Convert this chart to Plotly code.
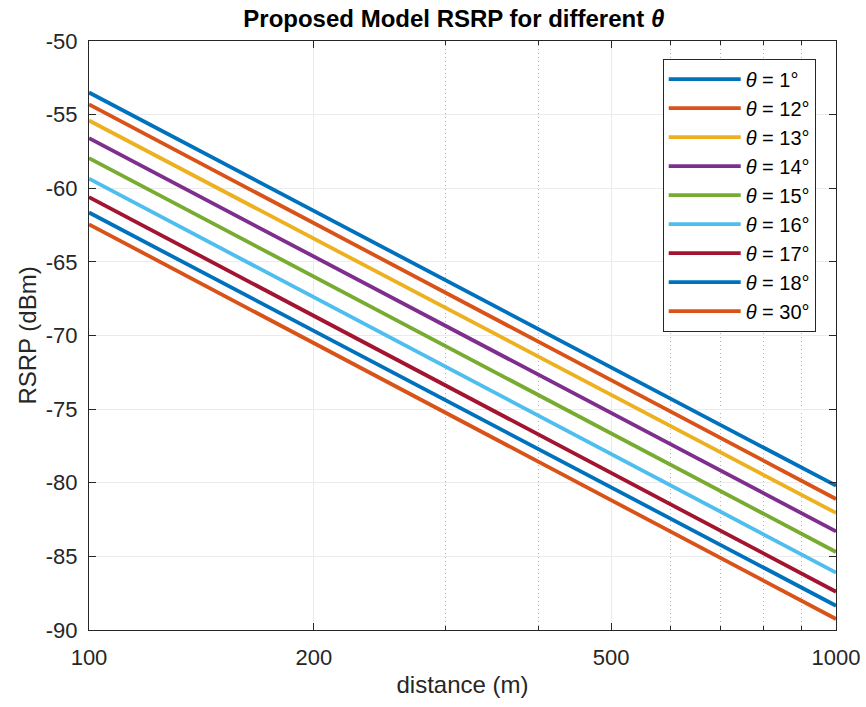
import plotly.graph_objects as go

distance = [100, 1000]
theta_labels = ["1°", "12°", "13°", "14°", "15°", "16°", "17°", "18°", "30°"]
rsrp_at_100 = [-53.5, -54.3, -55.4, -56.6, -57.95, -59.35, -60.6, -61.65, -62.45]
rsrp_at_1000 = [-80.2, -81.1, -82.05, -83.3, -84.7, -86.1, -87.4, -88.35, -89.25]
colors = ["#0072BD", "#D95319", "#EDB120", "#7E2F8E", "#77AC30",
          "#4DBEEE", "#A2142F", "#0072BD", "#D95319"]

y_ticks = [-50, -55, -60, -65, -70, -75, -80, -85, -90]
x_ticks = [100, 200, 500, 1000]
x_minor = [300, 400, 600, 700, 800, 900]

FONT = "Liberation Sans, Arial, Helvetica, sans-serif"

fig = go.Figure()
for lab, a, b, c in zip(theta_labels, rsrp_at_100, rsrp_at_1000, colors):
    fig.add_trace(go.Scatter(
        x=distance, y=[a, b], mode="lines",
        line=dict(color=c, width=3.8),
        name=f"<i>θ</i> = {lab}",
    ))

axis_common = dict(
    showline=True, linecolor="#262626", linewidth=1, mirror="ticks",
    ticks="inside", ticklen=7, tickcolor="#262626",
    showgrid=True, gridcolor="#ebebeb", gridwidth=1, zeroline=False,
    tickfont=dict(family=FONT, size=22, color="#262626"),
    automargin=False,
)

fig.update_layout(
    width=866, height=707,
    margin=dict(l=89, r=30, t=41, b=77),
    paper_bgcolor="white", plot_bgcolor="white",
    font=dict(family=FONT, color="#262626"),
    title=dict(text="Proposed Model RSRP for different <i>θ</i>",
               x=0.524, xanchor="center", y=0.974, yanchor="middle",
               font=dict(family=FONT, size=24, color="black", weight="bold")),
    xaxis=dict(
        type="log", range=[2, 3],
        tickvals=x_ticks, ticktext=[str(v) for v in x_ticks],
        ticklabelstandoff=8,
        title=dict(text="distance (m)", font=dict(family=FONT, size=24, color="#262626"), standoff=6),
        minor=dict(tickvals=x_minor, showgrid=True, griddash="1px,3px",
                   gridcolor="#b5b5b5", ticks="inside", ticklen=4, tickcolor="#262626"),
        **axis_common,
    ),
    yaxis=dict(
        range=[-90, -50],
        tickvals=y_ticks, ticktext=[str(v) for v in y_ticks],
        ticklabelstandoff=6,
        title=dict(text="RSRP (dBm)", font=dict(family=FONT, size=24, color="#262626"), standoff=2),
        **axis_common,
    ),
    legend=dict(
        x=0.768, y=0.97, xanchor="left", yanchor="top",
        bgcolor="white", bordercolor="#262626", borderwidth=1,
        font=dict(family=FONT, size=20, color="black"),
        tracegroupgap=0, itemwidth=72,
    ),
)

fig.write_html("out.html")
